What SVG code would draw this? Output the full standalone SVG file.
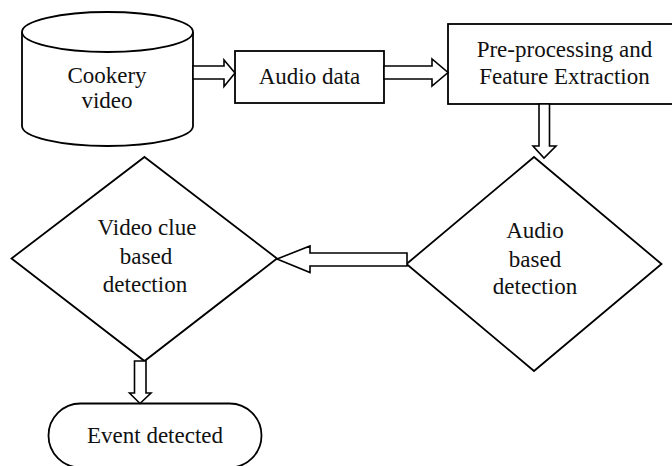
<svg xmlns="http://www.w3.org/2000/svg" width="672" height="466" viewBox="0 0 672 466">
  <style>
    .shape { fill: #ffffff; stroke: #000000; stroke-width: 1.8; stroke-linejoin: miter; }
    .arrow { fill: #ffffff; stroke: #000000; stroke-width: 1.6; stroke-linejoin: miter; }
    .label { font-family: "Liberation Serif", "Times New Roman", serif; font-size: 23px; fill: #111111; text-anchor: middle; }
  </style>
  <rect width="672" height="466" fill="#ffffff"/>

  <!-- source: video store -->
  <g id="cookery-video">
    <path class="shape" d="M22,32 L22,126 A85.5,20 0 0 0 193,126 L193,32"/>
    <ellipse class="shape" cx="107.5" cy="32" rx="85.5" ry="20"/>
    <text class="label" x="107" y="83">Cookery</text>
    <text class="label" x="107" y="108">video</text>
  </g>

  <g id="audio-data">
    <rect class="shape" x="235" y="51" width="149" height="52"/>
    <text class="label" x="309.5" y="84">Audio data</text>
  </g>

  <g id="feature-extraction">
    <rect class="shape" x="448" y="24" width="232" height="80"/>
    <text class="label" x="564.5" y="57">Pre-processing and</text>
    <text class="label" x="564.5" y="84">Feature Extraction</text>
  </g>

  <g id="audio-detection">
    <polygon class="shape" points="534,157 661.5,264 534,371 406.5,264"/>
    <text class="label" x="535" y="238">Audio</text>
    <text class="label" x="535" y="267">based</text>
    <text class="label" x="535" y="294">detection</text>
  </g>

  <g id="video-detection">
    <polygon class="shape" points="144.5,157 277,258.5 144.5,361 11.5,258.5"/>
    <text class="label" x="147" y="235">Video clue</text>
    <text class="label" x="146" y="264">based</text>
    <text class="label" x="145" y="292">detection</text>
  </g>

  <g id="event-detected">
    <rect class="shape" x="48.5" y="403.5" width="213" height="64" rx="32" ry="32"/>
    <text class="label" x="155" y="443">Event detected</text>
  </g>

  <!-- block arrows between the steps -->
  <g id="connectors">
    <polygon class="arrow" points="193,66 224,66 224,60 235,73 224,86.5 224,79 193,79"/>
    <polygon class="arrow" points="384,66 432,66 432,59 448,72.5 432,86 432,79 384,79"/>
    <polygon class="arrow" points="539,104 539,146 533,146 544,158 556,146 549.5,146 549.5,104"/>
    <polygon class="arrow" points="407,253 310,253 310,246 277,259 310,272.5 310,266 407,266"/>
    <polygon class="arrow" points="134.5,361 134.5,393 129.5,393 140,403.5 151,393 146,393 146,361"/>
  </g>
</svg>
